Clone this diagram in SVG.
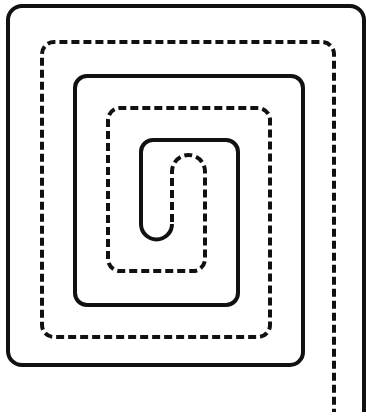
<svg xmlns="http://www.w3.org/2000/svg" width="366" height="418" viewBox="0 0 366 418">
<style>
.pipe{fill:none;stroke:#111;stroke-width:4;stroke-linejoin:round}
.ret{stroke-dasharray:8 4}
</style>
<rect x="0" y="0" width="366" height="418" fill="#fff"/>
<g id="spiral">
<path id="supply" class="pipe" d="M 364 412 L 364 20 A 14 14 0 0 0 350 6 L 22 6 A 14 14 0 0 0 8 20 L 8 351 A 14 14 0 0 0 22 365 L 290 365 A 13 13 0 0 0 303 352 L 303 88 A 12 12 0 0 0 291 76 L 87 76 A 12 12 0 0 0 75 88 L 75 293 A 12 12 0 0 0 87 305 L 226 305 A 12 12 0 0 0 238 293 L 238 152 A 12 12 0 0 0 226 140 L 153 140 A 12 12 0 0 0 141 152 L 141 224 A 15.5 15.5 0 0 0 172 224"/>
<path id="return" class="pipe ret" d="M 172 222 L 172 171.5 A 16.5 16.5 0 0 1 205 171.5 L 205 259 A 12 12 0 0 1 193 271 L 120 271 A 12 12 0 0 1 108 259 L 108 120 A 12 12 0 0 1 120 108 L 258 108 A 12 12 0 0 1 270 120 L 270 325 A 12 12 0 0 1 258 337 L 54 337 A 12 12 0 0 1 42 325 L 42 54 A 12 12 0 0 1 54 42 L 322 42 A 12 12 0 0 1 334 54 L 334 412"/>
</g>
</svg>
